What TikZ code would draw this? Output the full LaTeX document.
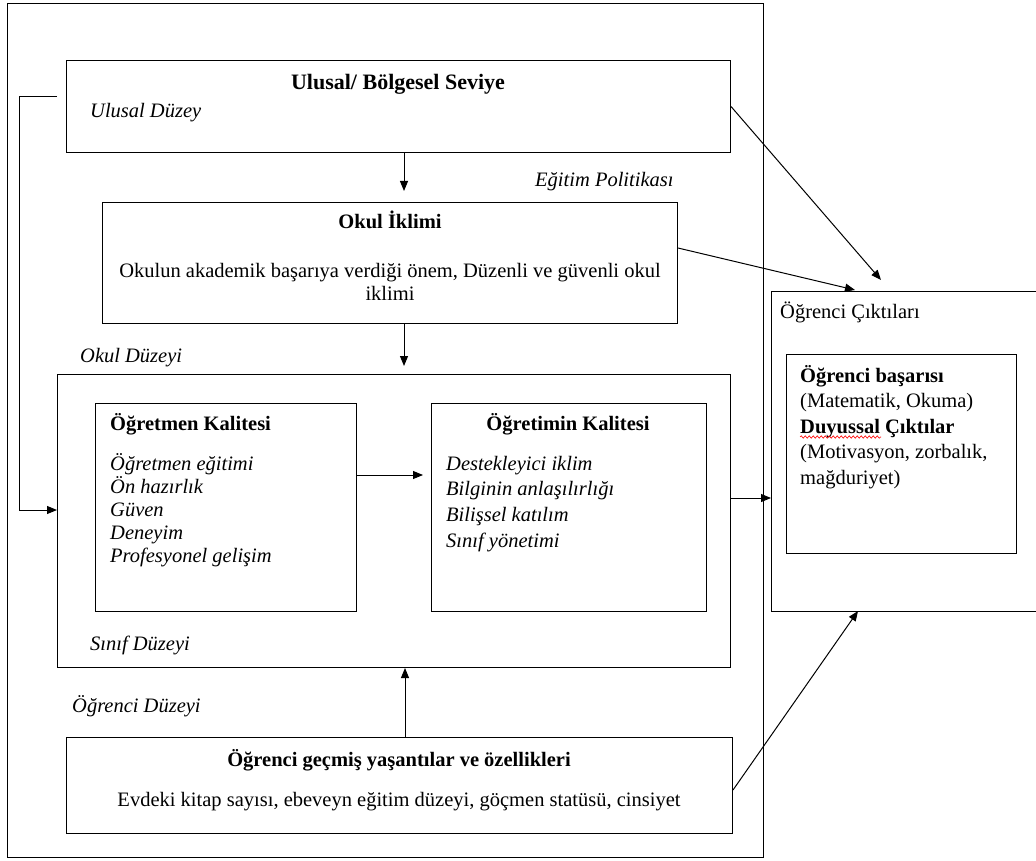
\documentclass[tikz,border=0pt]{standalone}
\usepackage{fontspec}
\setmainfont{Liberation Serif}
\usetikzlibrary{arrows.meta,calc,decorations.pathmorphing}
\begin{document}
\begin{tikzpicture}[x=1pt,y=-1pt,
  box/.style={draw,line width=1pt,rectangle,inner sep=0pt,anchor=north west},
  arr/.style={line width=1pt,-{Triangle[length=10pt,width=8pt]}},
  ln/.style={line width=1pt},
  txt/.style={inner sep=0pt,anchor=base west,font=\fontsize{20.5}{25.5}\selectfont},
  ctxt/.style={inner sep=0pt,anchor=base,align=center,font=\fontsize{20.5}{23}\selectfont},
  lbl/.style={txt,font=\fontsize{20.5}{25.5}\selectfont\itshape},
  ttl/.style={txt,font=\fontsize{20.5}{25.5}\selectfont\bfseries}
]
\useasboundingbox (0,0) rectangle (1036,861);
\clip (0,0) rectangle (1036,861);
\fill[white] (0,0) rectangle (1036,861);

% boxes
\node[box,minimum width=756pt,minimum height=854pt] (outer) at (7,3) {};
\node[box,minimum width=664pt,minimum height=92pt] (ulusal) at (66,60) {};
\node[box,minimum width=575pt,minimum height=121pt] (okul) at (102,202) {};
\node[box,minimum width=673pt,minimum height=293pt] (cls) at (57,374) {};
\node[box,minimum width=261pt,minimum height=208pt] (ogrtmen) at (95,403) {};
\node[box,minimum width=275pt,minimum height=208pt] (ogrtim) at (431,403) {};
\node[box,minimum width=280pt,minimum height=320pt] (cikti) at (771,291) {};
\node[box,minimum width=230pt,minimum height=199pt] (basari) at (786,354) {};
\node[box,minimum width=666pt,minimum height=96pt] (gecmis) at (66,737) {};

% texts
\node[ctxt,font=\fontsize{22}{25}\selectfont\bfseries] (tUlusal) at (398,90) {Ulusal/ Bölgesel Seviye};
\node[lbl] (tUlusalD) at (90,118) {Ulusal Düzey};
\node[lbl] (tPol) at (535,187) {Eğitim Politikası};
\node[ctxt,font=\fontsize{20.5}{23}\selectfont\bfseries] (tOkul) at (390,229) {Okul İklimi};
\node[ctxt] (tOkulB) at (390,300) {Okulun akademik başarıya verdiği önem, Düzenli ve güvenli okul\\iklimi};
\node[lbl] (tOkulD) at (80,362) {Okul Düzeyi};

\node[ttl] (tOgrt) at (110,430) {Öğretmen Kalitesi};
\node[lbl] (o1) at (110,470) {Öğretmen eğitimi};
\node[lbl] (o2) at (110,493) {Ön hazırlık};
\node[lbl] (o3) at (110,516) {Güven};
\node[lbl] (o4) at (110,539) {Deneyim};
\node[lbl] (o5) at (110,562) {Profesyonel gelişim};

\node[ctxt,font=\fontsize{20.5}{23}\selectfont\bfseries] (tOgrtim) at (568,430) {Öğretimin Kalitesi};
\node[lbl] (k1) at (446,470) {Destekleyici iklim};
\node[lbl] (k2) at (446,495) {Bilginin anlaşılırlığı};
\node[lbl] (k3) at (446,521) {Bilişsel katılım};
\node[lbl] (k4) at (446,547) {Sınıf yönetimi};

\node[lbl] (tSinif) at (90,650) {Sınıf Düzeyi};

\node[txt] (tCikti) at (780,318) {Öğrenci Çıktıları};
\node[ttl] (b1) at (800,382) {Öğrenci başarısı};
\node[txt] (b2) at (800,407) {(Matematik, Okuma)};
\node[ttl] (b3) at (800,433) {Duyussal Çıktılar};
\node[txt] (b4) at (800,458) {(Motivasyon, zorbalık,};
\node[txt] (b5) at (800,484) {mağduriyet)};
\draw[red,line width=0.6pt,decorate,decoration={snake,amplitude=1.2pt,segment length=4pt}] (b3.base west |- 0,437) -- (881,437);

\node[lbl] (tOgrD) at (72,712) {Öğrenci Düzeyi};
\node[ctxt,font=\fontsize{20.5}{23}\selectfont\bfseries] (tGecmis) at (399,766) {Öğrenci geçmiş yaşantılar ve özellikleri};
\node[ctxt] (tGecmisB) at (399,806) {Evdeki kitap sayısı, ebeveyn eğitim düzeyi, göçmen statüsü, cinsiyet};

% connectors
\coordinate (tipA) at (881,280);
\coordinate (tipB) at (855,290);
\coordinate (tipC) at (858,611);
\draw[arr] (ulusal.east) -- (tipA);
\draw[arr] (okul.east |- 0,248) -- (tipB);
\draw[arr] (gecmis.east |- 0,790) -- (tipC);
\draw[arr] (ulusal.south -| 404,0) -- ($(okul.north -| 404,0)+(0,-11)$);
\draw[arr] (okul.south -| 404,0) -- ($(cls.north -| 404,0)+(0,-8)$);
\draw[arr] (gecmis.north -| 405,0) -- (cls.south -| 405,0);
\draw[arr] (ogrtmen.east |- 0,475) -- ($(ogrtim.west |- 0,475)+(-8,0)$);
\draw[arr] (cls.east |- 0,498) -- (cikti.west |- 0,498);
\draw[arr] ($(ulusal.west |- 0,97)+(-9,0)$) -- (19,97) -- (19,510) -- (cls.west |- 0,510);
\end{tikzpicture}
\end{document}
